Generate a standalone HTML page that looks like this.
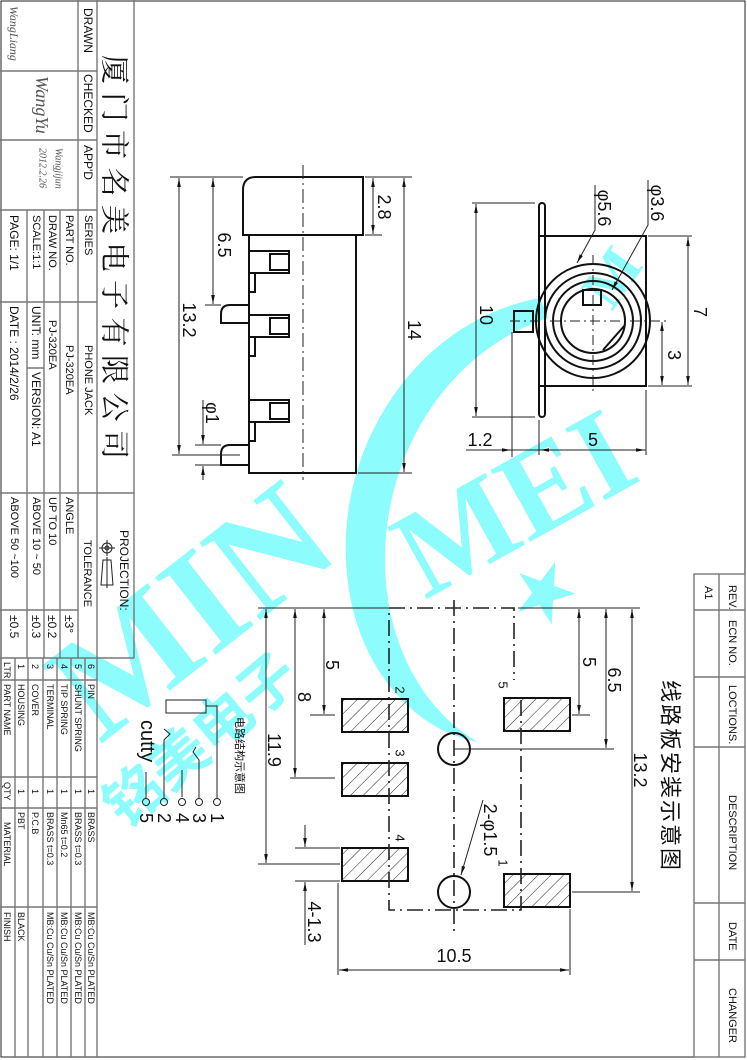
<!DOCTYPE html>
<html><head><meta charset="utf-8"><style>
html,body{margin:0;padding:0;background:#fff}
svg{display:block}
text{font-family:"Liberation Sans","Noto Sans CJK SC",sans-serif;fill:#111}
.l{stroke:#222;stroke-width:1;fill:none}
.t{stroke:#111;stroke-width:2;fill:none}
.g{stroke:#777;stroke-width:1.4;fill:none}
.d{stroke:#222;stroke-width:1;fill:none;stroke-dasharray:14 4 2 4}
.wm{fill:#8cfcfc}
</style></head><body>
<svg width="747" height="1060" viewBox="0 0 747 1060" xmlns="http://www.w3.org/2000/svg">
<defs>
<marker id="a" viewBox="0 0 10 10" refX="10" refY="5" markerWidth="9" markerHeight="9" orient="auto-start-reverse" markerUnits="userSpaceOnUse"><path d="M0,3 L10,5 L0,7 z" fill="#111"/></marker>
</defs>

<!-- watermark -->
<g class="wm">
<path d="M540,298 C420,320 340,440 346,560 C350,660 410,730 478,742 C425,712 385,645 385,560 C385,450 450,350 548,318 Z"/>
<text transform="translate(100,745) rotate(-38)" font-size="150" style="fill:#8cfcfc;font-family:'Liberation Serif',serif;font-weight:bold">MIN</text>
<text transform="translate(425,600) rotate(-29)" font-size="125" style="fill:#8cfcfc;font-family:'Liberation Serif',serif;font-weight:bold">MEI</text>
<text transform="translate(612,312) rotate(-55)" font-size="60" style="fill:#8cfcfc;font-family:'Liberation Serif',serif;font-weight:bold">M</text>
<text transform="translate(125,830) rotate(-40)" font-size="58" style="fill:#8cfcfc;font-family:'Liberation Sans','Noto Sans CJK SC',sans-serif;font-weight:bold">铭美电子</text>
<polygon points="545,560 552,583 575,583 556,597 563,620 545,606 527,620 534,597 515,583 538,583" transform="rotate(20 545 590)"/>
</g>

<!-- frame -->
<rect x="1" y="1" width="744" height="1056" class="l"/>

<!-- title block -->
<g class="g">
<line x1="134" y1="0" x2="134" y2="658"/>
<line x1="0" y1="658" x2="134" y2="658"/>
<line x1="97" y1="0" x2="97" y2="1057"/>
<line x1="78" y1="0" x2="78" y2="658"/>
<line x1="0" y1="71" x2="97" y2="71"/>
<line x1="0" y1="140" x2="97" y2="140"/>
<line x1="0" y1="210" x2="97" y2="210"/>
<line x1="0" y1="493" x2="134" y2="493"/>
<line x1="60" y1="210" x2="60" y2="658"/>
<line x1="44" y1="210" x2="44" y2="658"/>
<line x1="27" y1="210" x2="27" y2="658"/>
<line x1="0" y1="302" x2="27" y2="302"/>
<line x1="44" y1="302" x2="97" y2="302"/>
<line x1="27" y1="302" x2="44" y2="302"/>
<line x1="27" y1="368" x2="44" y2="368"/>
<line x1="0" y1="610" x2="78" y2="610"/>
</g>
<g font-size="12">
<text transform="translate(88,8) rotate(90)" dominant-baseline="central">DRAWN</text>
<text transform="translate(88,74) rotate(90)" dominant-baseline="central">CHECKED</text>
<text transform="translate(88,145) rotate(90)" dominant-baseline="central">APP'D</text>
<text transform="translate(88,215) rotate(90)" dominant-baseline="central" font-size="11">SERIES</text>
<text transform="translate(69,215) rotate(90)" dominant-baseline="central" font-size="11">PART  NO.</text>
<text transform="translate(52,215) rotate(90)" dominant-baseline="central" font-size="11">DRAW NO.</text>
<text transform="translate(36,215) rotate(90)" dominant-baseline="central" font-size="11">SCALE:1:1</text>
<text transform="translate(14,215) rotate(90)" dominant-baseline="central">PAGE:  1/1</text>
<text transform="translate(88,345) rotate(90)" dominant-baseline="central" font-size="11">PHONE JACK</text>
<text transform="translate(69,345) rotate(90)" dominant-baseline="central" font-size="11">PJ-320EA</text>
<text transform="translate(52,320) rotate(90)" dominant-baseline="central" font-size="11">PJ-320EA</text>
<text transform="translate(36,306) rotate(90)" dominant-baseline="central">UNIT: mm</text>
<text transform="translate(36,372) rotate(90)" dominant-baseline="central">VERSION: A1</text>
<text transform="translate(14,306) rotate(90)" dominant-baseline="central">DATE : 2014/2/26</text>
<text transform="translate(124,530) rotate(90)" dominant-baseline="central">PROJECTION:</text>
<text transform="translate(87,540) rotate(90)" dominant-baseline="central" font-size="11">TOLERANCE</text>
<text transform="translate(69,497) rotate(90)" dominant-baseline="central" font-size="11">ANGLE</text>
<text transform="translate(52,497) rotate(90)" dominant-baseline="central" font-size="11">UP TO 10</text>
<text transform="translate(36,497) rotate(90)" dominant-baseline="central" font-size="11">ABOVE 10 ~ 50</text>
<text transform="translate(14,497) rotate(90)" dominant-baseline="central" font-size="11">ABOVE 50 ~100</text>
<text transform="translate(69,615) rotate(90)" dominant-baseline="central">±3°</text>
<text transform="translate(52,615) rotate(90)" dominant-baseline="central">±0.2</text>
<text transform="translate(36,615) rotate(90)" dominant-baseline="central">±0.3</text>
<text transform="translate(14,615) rotate(90)" dominant-baseline="central">±0.5</text>
</g>
<text transform="translate(14,6) rotate(90)" dominant-baseline="central" style="fill:#555;font-family:'Liberation Serif',serif;font-style:italic;font-size:12px">WangLiang</text>
<text transform="translate(42,76) rotate(90)" dominant-baseline="central" style="fill:#555;font-family:'Liberation Serif',serif;font-style:italic;font-size:18px">WangYu</text>
<text transform="translate(58,148) rotate(90)" dominant-baseline="central" style="fill:#555;font-family:'Liberation Serif',serif;font-style:italic;font-size:10px">Wangjijun</text>
<text transform="translate(42,148) rotate(90)" dominant-baseline="central" style="fill:#555;font-family:'Liberation Serif',serif;font-style:italic;font-size:10px">2012.2.26</text>
<text transform="translate(116,55) rotate(90)" dominant-baseline="central" font-size="29" letter-spacing="8.5" style="font-family:'Noto Serif CJK SC','Noto Sans CJK SC',serif">厦门市名美电子有限公司</text>
<!-- projection symbol -->
<g class="l">
<circle cx="107" cy="548" r="5"/><circle cx="107" cy="548" r="2"/>
<line x1="107" y1="540" x2="107" y2="556"/><line x1="99" y1="548" x2="115" y2="548"/>
<path d="M103,560 L111,560 L113,585 L101,585 Z"/><line x1="107" y1="557" x2="107" y2="588"/>
</g>

<!-- parts table -->
<g class="g">
<line x1="15" y1="658" x2="15" y2="1057"/>
<line x1="28" y1="658" x2="28" y2="1057"/>
<line x1="43" y1="658" x2="43" y2="1057"/>
<line x1="57" y1="658" x2="57" y2="1057"/>
<line x1="71" y1="658" x2="71" y2="1057"/>
<line x1="85" y1="658" x2="85" y2="1057"/>
<line x1="0" y1="680" x2="97" y2="680"/>
<line x1="0" y1="777" x2="97" y2="777"/>
<line x1="0" y1="808" x2="97" y2="808"/>
<line x1="0" y1="907" x2="97" y2="907"/>
</g>
<g font-size="9">
<text transform="translate(7,662) rotate(90)" dominant-baseline="central">LTR</text>
<text transform="translate(7,684) rotate(90)" dominant-baseline="central">PART NAME</text>
<text transform="translate(7,782) rotate(90)" dominant-baseline="central">QTY</text>
<text transform="translate(7,822) rotate(90)" dominant-baseline="central">MATERIAL</text>
<text transform="translate(7,912) rotate(90)" dominant-baseline="central">FINISH</text>
<text transform="translate(21,664) rotate(90)" dominant-baseline="central">1</text>
<text transform="translate(21,684) rotate(90)" dominant-baseline="central">HOUSING</text>
<text transform="translate(21,789) rotate(90)" dominant-baseline="central">1</text>
<text transform="translate(21,812) rotate(90)" dominant-baseline="central">PBT</text>
<text transform="translate(21,912) rotate(90)" dominant-baseline="central">BLACK</text>
<text transform="translate(35,664) rotate(90)" dominant-baseline="central">2</text>
<text transform="translate(35,684) rotate(90)" dominant-baseline="central">COVER</text>
<text transform="translate(35,789) rotate(90)" dominant-baseline="central">1</text>
<text transform="translate(35,812) rotate(90)" dominant-baseline="central">P.C.B</text>
<text transform="translate(50,664) rotate(90)" dominant-baseline="central">3</text>
<text transform="translate(50,684) rotate(90)" dominant-baseline="central">TERMINAL</text>
<text transform="translate(50,789) rotate(90)" dominant-baseline="central">1</text>
<text transform="translate(50,812) rotate(90)" dominant-baseline="central">BRASS  t=0.3</text>
<text transform="translate(50,912) rotate(90)" dominant-baseline="central">MB:Cu   Cu/Sn   PLATED</text>
<text transform="translate(64,664) rotate(90)" dominant-baseline="central">4</text>
<text transform="translate(64,684) rotate(90)" dominant-baseline="central">TIP  SPRING</text>
<text transform="translate(64,789) rotate(90)" dominant-baseline="central">1</text>
<text transform="translate(64,812) rotate(90)" dominant-baseline="central">Mn65  t=0.2</text>
<text transform="translate(64,912) rotate(90)" dominant-baseline="central">MB:Cu   Cu/Sn   PLATED</text>
<text transform="translate(78,664) rotate(90)" dominant-baseline="central">5</text>
<text transform="translate(78,684) rotate(90)" dominant-baseline="central">SHUNT  SPRING</text>
<text transform="translate(78,789) rotate(90)" dominant-baseline="central">1</text>
<text transform="translate(78,812) rotate(90)" dominant-baseline="central">BRASS  t=0.3</text>
<text transform="translate(78,912) rotate(90)" dominant-baseline="central">MB:Cu   Cu/Sn   PLATED</text>
<text transform="translate(91,664) rotate(90)" dominant-baseline="central">6</text>
<text transform="translate(91,684) rotate(90)" dominant-baseline="central">PIN</text>
<text transform="translate(91,789) rotate(90)" dominant-baseline="central">1</text>
<text transform="translate(91,812) rotate(90)" dominant-baseline="central">BRASS</text>
<text transform="translate(91,912) rotate(90)" dominant-baseline="central">MB:Cu   Cu/Sn   PLATED</text>
</g>

<!-- circuit -->
<g class="l">
<rect x="166" y="700" width="40" height="13"/>
<path d="M206,706 H217 V798"/>
<circle cx="217" cy="802" r="3.5"/><circle cx="199" cy="802" r="3.5"/><circle cx="182" cy="802" r="3.5"/><circle cx="164" cy="802" r="3.5"/><circle cx="146" cy="802" r="3.5"/>
<path d="M199,798 V760 L193,752 L196,747"/>
<path d="M182,797 V770"/>
<path d="M164,798 V740 L170,734 L164,729"/>
<path d="M146,798 V772"/>
</g>
<g font-size="18">
<text transform="translate(217,813) rotate(90)" dominant-baseline="central">1</text>
<text transform="translate(199,813) rotate(90)" dominant-baseline="central">3</text>
<text transform="translate(182,813) rotate(90)" dominant-baseline="central">4</text>
<text transform="translate(164,813) rotate(90)" dominant-baseline="central">2</text>
<text transform="translate(146,813) rotate(90)" dominant-baseline="central">5</text>
<text transform="translate(147,720) rotate(90)" dominant-baseline="central" font-size="20">cutty</text>
</g>
<text transform="translate(239,717) rotate(90)" dominant-baseline="central" font-size="11">电路结构示意图</text>

<!-- side view -->
<g class="t">
<path d="M243,190 Q243,177 256,177 H363 V235 H243 Z"/>
<rect x="249" y="235" width="107" height="238"/>
<rect x="249" y="251" width="40" height="22"/><rect x="270" y="254" width="19" height="16"/>
<rect x="249" y="315" width="40" height="22"/><rect x="270" y="318" width="19" height="16"/>
<rect x="249" y="400" width="40" height="22"/><rect x="270" y="403" width="19" height="16"/>
<rect x="249" y="273" width="6" height="19"/><rect x="249" y="337" width="6" height="19"/><rect x="249" y="422" width="6" height="19"/>
<path d="M249,305 H230 Q221,305 221,314 V323 H249"/>
<path d="M249,445 H230 Q221,445 221,454 V465 H249"/>
</g>
<line x1="303" y1="165" x2="303" y2="480" class="d"/>
<g class="l">
<line x1="170" y1="177" x2="243" y2="177"/>
<line x1="365" y1="177" x2="412" y2="177"/>
<line x1="365" y1="235" x2="382" y2="235"/>
<line x1="358" y1="473" x2="412" y2="473"/>
<line x1="172" y1="455" x2="240" y2="455"/>
<line x1="205" y1="305" x2="221" y2="305"/>
<line x1="195" y1="445" x2="221" y2="445"/>
<line x1="195" y1="465" x2="221" y2="465"/>
<line x1="404" y1="178" x2="404" y2="472" marker-start="url(#a)" marker-end="url(#a)"/>
<line x1="373" y1="178" x2="373" y2="234" marker-start="url(#a)" marker-end="url(#a)"/>
<line x1="213" y1="178" x2="213" y2="304" marker-start="url(#a)" marker-end="url(#a)"/>
<line x1="179" y1="178" x2="179" y2="454" marker-start="url(#a)" marker-end="url(#a)"/>
<line x1="203" y1="400" x2="203" y2="444" marker-end="url(#a)"/>
<line x1="203" y1="480" x2="203" y2="466" marker-end="url(#a)"/>
</g>
<g font-size="18">
<text transform="translate(384,207) rotate(90)" dominant-baseline="central" text-anchor="middle">2.8</text>
<text transform="translate(224,245) rotate(90)" dominant-baseline="central" text-anchor="middle">6.5</text>
<text transform="translate(189,320) rotate(90)" dominant-baseline="central" text-anchor="middle">13.2</text>
<text transform="translate(414,330) rotate(90)" dominant-baseline="central" text-anchor="middle">14</text>
<text transform="translate(212,413) rotate(90)" dominant-baseline="central" text-anchor="middle">φ1</text>
</g>

<!-- front view -->
<g class="t">
<rect x="539" y="236" width="107" height="150"/>
<rect x="539" y="203" width="6" height="214" rx="3"/>
<rect x="514" y="311" width="19" height="21"/>
<circle cx="593" cy="321" r="57"/>
<circle cx="593" cy="321" r="48"/>
<circle cx="593" cy="321" r="40"/>
<circle cx="593" cy="321" r="32"/>
<rect x="583" y="290" width="18" height="15"/>
<path d="M625,325 L603,350"/>
</g>
<g class="d" style="stroke-dasharray:10 4 2 4">
<line x1="593" y1="255" x2="593" y2="395"/>
<line x1="510" y1="321" x2="670" y2="321"/>
</g>
<g class="l">
<line x1="472" y1="203" x2="535" y2="203"/>
<line x1="472" y1="417" x2="535" y2="417"/>
<line x1="476" y1="204" x2="476" y2="416" marker-start="url(#a)" marker-end="url(#a)"/>
<line x1="648" y1="236" x2="692" y2="236"/>
<line x1="648" y1="386" x2="692" y2="386"/>
<line x1="688" y1="237" x2="688" y2="385" marker-start="url(#a)" marker-end="url(#a)"/>
<line x1="662" y1="322" x2="662" y2="385" marker-start="url(#a)" marker-end="url(#a)"/>
<line x1="539" y1="420" x2="539" y2="455"/>
<line x1="646" y1="390" x2="646" y2="455"/>
<line x1="512" y1="332" x2="512" y2="457"/>
<line x1="466" y1="450" x2="646" y2="450"/>
<line x1="540" y1="450" x2="560" y2="450" marker-start="url(#a)"/>
<line x1="625" y1="450" x2="645" y2="450" marker-end="url(#a)"/>
<line x1="495" y1="450" x2="511" y2="450" marker-end="url(#a)"/>
<path d="M595,185 V230 L577,263" marker-end="url(#a)"/>
<path d="M648,180 V225 L612,290" marker-end="url(#a)"/>
</g>
<g font-size="18">
<text transform="translate(486,315) rotate(90)" dominant-baseline="central" text-anchor="middle">10</text>
<text transform="translate(700,312) rotate(90)" dominant-baseline="central" text-anchor="middle">7</text>
<text transform="translate(674,355) rotate(90)" dominant-baseline="central" text-anchor="middle">3</text>
<text x="593" y="446" text-anchor="middle">5</text>
<text x="480" y="446" text-anchor="middle">1.2</text>
<text transform="translate(604,208) rotate(90)" dominant-baseline="central" text-anchor="middle">φ5.6</text>
<text transform="translate(657,203) rotate(90)" dominant-baseline="central" text-anchor="middle">φ3.6</text>
</g>

<!-- PCB layout -->
<defs>
<pattern id="h" width="9" height="9" patternUnits="userSpaceOnUse" patternTransform="rotate(45)">
<line x1="0" y1="0" x2="0" y2="9" stroke="#222" stroke-width="1"/>
</pattern>
</defs>
<g class="t">
<rect x="342" y="699" width="66" height="33" fill="url(#h)"/>
<rect x="342" y="763" width="66" height="33" fill="url(#h)"/>
<rect x="342" y="848" width="66" height="33" fill="url(#h)"/>
<rect x="504" y="698" width="66" height="33" fill="url(#h)"/>
<rect x="504" y="874" width="66" height="33" fill="url(#h)"/>
</g>
<g class="t">
<circle cx="454" cy="749" r="16"/>
<circle cx="454" cy="892" r="16"/>
</g>
<g class="d" style="stroke-width:1.6;stroke-dasharray:16 5 2 5">
<path d="M389,608 H514 V680 M521,700 V910 H389 V608"/>
<line x1="454" y1="600" x2="454" y2="935"/>
</g>
<g class="l">
<line x1="258" y1="608" x2="389" y2="608"/>
<line x1="518" y1="608" x2="640" y2="608"/>
<line x1="266" y1="609" x2="266" y2="863" marker-start="url(#a)" marker-end="url(#a)"/>
<line x1="258" y1="864" x2="340" y2="864"/>
<line x1="295" y1="609" x2="295" y2="777" marker-start="url(#a)" marker-end="url(#a)"/>
<line x1="290" y1="778" x2="335" y2="778"/>
<line x1="324" y1="609" x2="324" y2="714" marker-start="url(#a)" marker-end="url(#a)"/>
<line x1="310" y1="715" x2="335" y2="715"/>
<line x1="295" y1="848" x2="340" y2="848"/>
<line x1="295" y1="881" x2="340" y2="881"/>
<line x1="305" y1="825" x2="305" y2="847" marker-end="url(#a)"/>
<line x1="305" y1="945" x2="305" y2="882" marker-end="url(#a)"/>
<line x1="579" y1="609" x2="579" y2="714" marker-start="url(#a)" marker-end="url(#a)"/>
<line x1="572" y1="715" x2="590" y2="715"/>
<line x1="606" y1="609" x2="606" y2="748" marker-start="url(#a)" marker-end="url(#a)"/>
<line x1="454" y1="749" x2="614" y2="749"/>
<line x1="632" y1="609" x2="632" y2="891" marker-start="url(#a)" marker-end="url(#a)"/>
<line x1="572" y1="892" x2="640" y2="892"/>
<line x1="338" y1="883" x2="338" y2="975"/>
<line x1="570" y1="909" x2="570" y2="975"/>
<line x1="339" y1="970" x2="569" y2="970" marker-start="url(#a)" marker-end="url(#a)"/>
<line x1="483" y1="800" x2="461" y2="875" marker-end="url(#a)"/>
</g>
<g font-size="18">
<text transform="translate(332,665) rotate(90)" dominant-baseline="central" text-anchor="middle">5</text>
<text transform="translate(304,697) rotate(90)" dominant-baseline="central" text-anchor="middle">8</text>
<text transform="translate(274,750) rotate(90)" dominant-baseline="central" text-anchor="middle">11.9</text>
<text transform="translate(314,922) rotate(90)" dominant-baseline="central" text-anchor="middle">4-1.3</text>
<text transform="translate(589,662) rotate(90)" dominant-baseline="central" text-anchor="middle">5</text>
<text transform="translate(614,680) rotate(90)" dominant-baseline="central" text-anchor="middle">6.5</text>
<text transform="translate(640,770) rotate(90)" dominant-baseline="central" text-anchor="middle">13.2</text>
<text x="454" y="962" text-anchor="middle">10.5</text>
<text transform="translate(490,830) rotate(90)" dominant-baseline="central" text-anchor="middle">2-φ1.5</text>
</g>
<g font-size="13">
<text transform="translate(400,690) rotate(90)" dominant-baseline="central" text-anchor="middle">2</text>
<text transform="translate(400,753) rotate(90)" dominant-baseline="central" text-anchor="middle">3</text>
<text transform="translate(400,838) rotate(90)" dominant-baseline="central" text-anchor="middle">4</text>
<text transform="translate(503,685) rotate(90)" dominant-baseline="central" text-anchor="middle">5</text>
<text transform="translate(503,863) rotate(90)" dominant-baseline="central" text-anchor="middle">1</text>
</g>
<text transform="translate(670,680) rotate(90)" dominant-baseline="central" font-size="22" letter-spacing="2">线路板安装示意图</text>

<!-- revision table -->
<g class="g">
<rect x="694" y="574" width="51" height="483"/>
<line x1="719" y1="574" x2="719" y2="1057"/>
<line x1="694" y1="610" x2="745" y2="610"/>
<line x1="694" y1="677" x2="745" y2="677"/>
<line x1="694" y1="747" x2="745" y2="747"/>
<line x1="694" y1="903" x2="745" y2="903"/>
<line x1="694" y1="960" x2="745" y2="960"/>
</g>
<g font-size="11">
<text transform="translate(732,585) rotate(90)" dominant-baseline="central">REV.</text>
<text transform="translate(708,586) rotate(90)" dominant-baseline="central">A1</text>
<text transform="translate(732,620) rotate(90)" dominant-baseline="central">ECN NO.</text>
<text transform="translate(732,685) rotate(90)" dominant-baseline="central">LOCTIONS.</text>
<text transform="translate(732,795) rotate(90)" dominant-baseline="central">DESCRIPTION</text>
<text transform="translate(732,922) rotate(90)" dominant-baseline="central">DATE</text>
<text transform="translate(732,988) rotate(90)" dominant-baseline="central">CHANGER</text>
</g>
</svg>
</body></html>
